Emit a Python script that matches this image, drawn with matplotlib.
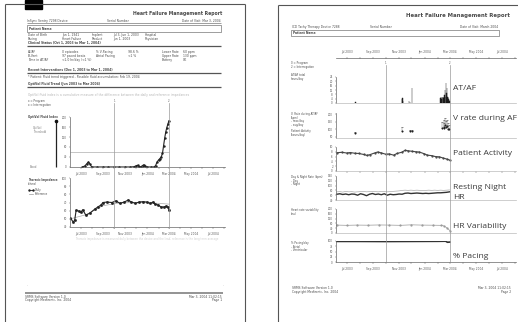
import matplotlib
matplotlib.use("Agg")
import matplotlib.pyplot as plt
import matplotlib.dates as mdates
import pandas as pd
from matplotlib.patches import Rectangle

# ---------------------------------------------------------------- data
date_ticks = ["2003-07-01", "2003-09-01", "2003-11-01", "2004-01-01",
              "2004-03-01", "2004-05-01", "2004-07-01"]
date_labels = ["Jul 2003", "Sep 2003", "Nov 2003", "Jan 2004",
               "Mar 2004", "May 2004", "Jul 2004"]
period_marks = ["2003-10-01", "2004-03-01"]

# OptiVol fluid index
fluid_dates = ["2003-07-05", "2003-07-12", "2003-07-18", "2003-07-22", "2003-07-26",
               "2003-07-31", "2003-08-15", "2003-09-01", "2003-09-15", "2003-10-01",
               "2003-10-15", "2003-11-01", "2003-11-15", "2003-11-25", "2003-12-01",
               "2003-12-05", "2003-12-09", "2003-12-14", "2003-12-19", "2003-12-22",
               "2003-12-26", "2003-12-30", "2004-01-10", "2004-01-20", "2004-01-24",
               "2004-01-28", "2004-02-01", "2004-02-05", "2004-02-09", "2004-02-12",
               "2004-02-15", "2004-02-18", "2004-02-21", "2004-02-24", "2004-02-27",
               "2004-03-01"]
fluid_index = [0, 4, 14, 20, 12, 0, 0, 0, 0, 0, 0, 0, 0, 1, 5, 7, 2, 1, 6, 9,
               3, 0, 0, 0, 6, 20, 28, 34, 42, 55, 85, 115, 140, 158, 172, 185]
fluid_threshold = 60

# Thoracic impedance
imp_dates = ["2003-06-02", "2003-06-10", "2003-06-14", "2003-06-18", "2003-06-25",
             "2003-07-01", "2003-07-06", "2003-07-15", "2003-07-26", "2003-08-09",
             "2003-08-17", "2003-08-26", "2003-08-31", "2003-09-11", "2003-09-25",
             "2003-10-06", "2003-10-17", "2003-10-29", "2003-11-09", "2003-11-18",
             "2003-11-29", "2003-12-09", "2003-12-20", "2003-12-31", "2004-01-09",
             "2004-01-17", "2004-01-22", "2004-01-31", "2004-02-08", "2004-02-17",
             "2004-02-22", "2004-02-27", "2004-03-01"]
imp_daily = [51, 46, 48.5, 60.5, 59.5, 58, 61, 54.5, 57, 62, 64.5, 67, 70,
             70.5, 70, 72, 69, 70.5, 73, 70.5, 69, 70.5, 71, 70.5, 68.8, 70.5,
             68, 67, 64.5, 64.5, 65.5, 64, 61]
ref_dates = ["2003-06-02", "2003-07-15", "2003-08-31", "2003-10-15", "2003-12-01",
             "2004-01-15", "2004-03-01"]
imp_reference = [50, 55, 66, 69.5, 70, 69.5, 68]

# AT/AF burden (hours/day)
ataf_dates = ["2003-07-22", "2003-11-09", "2003-11-10", "2003-11-11", "2003-11-26",
              "2003-11-28", "2003-12-02"] + \
             [f"2004-02-{d:02d}" for d in range(8, 30)]
ataf_hours = [1, 4, 5, 2, 2, 1, 14,
              5, 6, 4, 6, 5, 6, 6, 5, 6, 7, 6, 12, 6, 18, 9, 14, 6, 6, 5, 4, 3, 2]

# Ventricular rate during AT/AF (bpm)
vr_dates = ["2003-07-22", "2003-11-10", "2003-11-27", "2003-12-02", "2004-02-12",
            "2004-02-15", "2004-02-17", "2004-02-19", "2004-02-21", "2004-02-23",
            "2004-02-25", "2004-02-27"]
vr_max = [80, 118, 92, 95, 150, 160, 145, 175, 155, 165, 140, 130]
vr_avg = [72, 90, 85, 86, 110, 118, 105, 128, 112, 120, 102, 98]

# Patient activity (hours/day)
act_dates = ["2003-06-08", "2003-06-20", "2003-07-01", "2003-07-10", "2003-07-20",
             "2003-07-30", "2003-08-10", "2003-08-18", "2003-08-25", "2003-09-05",
             "2003-09-12", "2003-09-20", "2003-10-01", "2003-10-10", "2003-10-20",
             "2003-10-28", "2003-11-08", "2003-11-16", "2003-11-24", "2003-12-03",
             "2003-12-12", "2003-12-20", "2003-12-31", "2004-01-08", "2004-01-18",
             "2004-01-27", "2004-02-05", "2004-02-14", "2004-02-22", "2004-03-01"]
act_hours = [7.6, 7.8, 7.5, 7.7, 7.4, 7.3, 6.9, 6.5, 6.8, 7.5, 7.9, 7.6, 7.0,
             7.1, 6.6, 7.3, 7.8, 8.6, 8.4, 8.2, 8.0, 7.9, 7.2, 6.6, 6.4, 6.0,
             5.9, 5.4, 5.0, 4.5]

# Day / night heart rate (bpm), weekly
hr_dates = [d.strftime("%Y-%m-%d") for d in
            pd.date_range("2003-06-08", "2004-03-01", freq="7D")]
hr_night = [64, 66, 63, 65, 62, 65, 64, 60, 66, 63, 58, 64, 67, 63, 65, 62,
            66, 60, 64, 62, 63, 65, 64, 68, 69, 67, 68, 69, 68, 67, 68, 67,
            68, 69, 70, 70, 71, 72, 74][:len(hr_dates)]
hr_day = [74, 75, 73, 76, 74, 75, 73, 74, 75, 76, 74, 75, 76, 75, 74, 76,
          75, 74, 75, 76, 77, 78, 80, 81, 80, 81, 80, 81, 80, 79, 80, 81,
          80, 81, 80, 81, 80, 81, 82][:len(hr_dates)]

# Heart rate variability (ms)
hrv_dates = ["2003-06-08", "2003-07-01", "2003-07-25", "2003-08-20", "2003-09-15",
             "2003-10-10", "2003-11-05", "2003-12-01", "2003-12-25", "2004-01-20",
             "2004-02-08", "2004-02-15", "2004-02-22", "2004-03-01"]
hrv_ms = [66, 64, 66, 65, 67, 66, 64, 68, 66, 65, 64, 60, 45, 20]

# Percent pacing
pace_dates = ["2003-06-08", "2003-08-01", "2003-10-01", "2003-12-01", "2004-02-01",
              "2004-02-20", "2004-02-24", "2004-03-01"]
pace_pct = [98, 98, 97.5, 98, 98.5, 99, 94, 95]

# ---------------------------------------------------------------- figure
W, H = 518, 322
fig = plt.figure(figsize=(W / 100, H / 100), dpi=100)
fig.patch.set_facecolor("white")

page = fig.add_axes([0, 0, 1, 1])
page.set_xlim(0, W)
page.set_ylim(H, 0)
page.axis("off")

TXT = "#4a4a4a"
SMALL = 2.2
FAM = ["DejaVu Sans"]


def t(x, y, s, size=SMALL, ha="left", bold=False, color=TXT, **kw):
    page.text(x, y, s, fontsize=size, ha=ha, va="center", color=color,
              fontweight="bold" if bold else "normal", family=FAM, **kw)


def hline(x0, x1, y, lw=0.4, color="#555555"):
    page.plot([x0, x1], [y, y], color=color, lw=lw, solid_capstyle="butt")


def vline(x, y0, y1, lw=0.6, color="#555555"):
    page.plot([x, x], [y0, y1], color=color, lw=lw, solid_capstyle="butt")


def box(x0, y0, x1, y1):
    ax = fig.add_axes([x0 / W, 1 - y1 / H, (x1 - x0) / W, (y1 - y0) / H])
    ax.patch.set_alpha(0)
    return ax


def D(lst):
    return pd.to_datetime(lst)


tick_dates = D(date_ticks)
months = mdates.MonthLocator()


def style_axis(ax, xlim, ylim, yticks, show_xlabels=False, xticks=True,
               bottom_color="#666666"):
    ax.set_xlim(*D(xlim))
    ax.set_ylim(*ylim)
    for s in ("top", "right"):
        ax.spines[s].set_visible(False)
    ax.spines["left"].set_color("#666666")
    ax.spines["left"].set_linewidth(0.5)
    ax.spines["bottom"].set_color(bottom_color)
    ax.spines["bottom"].set_linewidth(0.5)
    ax.set_yticks(yticks)
    ax.set_yticklabels([str(v) for v in yticks])
    ax.tick_params(axis="y", labelsize=1.9, length=1, width=0.3, pad=1.2,
                   colors="#555555")
    if xticks:
        ax.set_xticks(tick_dates)
        ax.set_xticklabels(date_labels if show_xlabels else [])
        ax.xaxis.set_minor_locator(months)
        ax.tick_params(axis="x", which="both", labelsize=2.1, length=1.2,
                       width=0.3, pad=2.2, colors="#555555")
    else:
        ax.set_xticks([])


# ============================================================ page 1
vline(5, 4, H, lw=0.8)
vline(245, 4, H, lw=0.8)
hline(5, 245, 4, lw=0.8)
page.add_patch(Rectangle((25, 0), 17, 9, color="black"))

t(222, 13, "Heart Failure Management Report", size=3.3, ha="right", bold=True)
t(27, 20.5, "InSync Sentry 7298 Device")
t(107, 20.5, "Serial Number")
t(221, 20.5, "Date of Visit: Mar 3, 2004", ha="right")
hline(27, 221, 23, lw=0.4)
page.add_patch(Rectangle((27, 25), 194, 7, fill=False, lw=0.4, ec="#555555"))
t(29, 28.5, "Patient Name", bold=True)

for x, a, b in [(28, "Date of Birth", "Pacing"), (62, "Jan 1, 1941", "Heart Failure"),
                (92, "Implant", "Product"), (113, "Jul 3, Jun 1, 2003", "Jun 1, 2003"),
                (145, "Hospital", "Physician")]:
    t(x, 34.5, a)
    t(x, 38.5, b)

t(28, 43, "Clinical Status (Oct 1, 2003 to Mar 1, 2004)", bold=True)
hline(27, 221, 46, lw=0.9)
rows = [["AT/AF", "0 episodes", "% V-Pacing", "98.6 %", "Lower Rate", "60 ppm"],
        ["Bi-Vent", "97 paced beats", "Atrial Pacing", "<1 %", "Upper Rate", "130 ppm"],
        ["Time in AT/AF", "<1.0 hr/day (<1 %)", "", "", "Battery", "OK"]]
for y, row in zip([52, 56, 60], rows):
    for x, s in zip([28, 62, 96, 128, 162, 183], row):
        t(x, y, s)

t(28, 70, "Recent Interventions (Dec 1, 2003 to Mar 1, 2004)", bold=True)
hline(27, 221, 73, lw=0.9)
t(28, 77, "* Patient: Fluid trend triggered - Possible fluid accumulation: Feb 19, 2004")
t(28, 84, "OptiVol Fluid Trend (Jun 2003 to Mar 2004)", bold=True)
hline(27, 221, 87, lw=0.9)
t(28, 95, "OptiVol fluid index is a cumulative measure of the difference between the daily and reference impedances",
  color="#b5b5b5")
t(28, 101, "x = Program", size=1.9)
t(28, 104.5, "x = Interrogation", size=1.9)

t(28, 117, "OptiVol Fluid Index", bold=True, size=2.0)
t(33, 128, "OptiVol", size=1.9, color="#777777")
t(33, 131.5, "Threshold", size=1.9, color="#777777")
t(30, 167, "Blood", size=1.9, color="#777777")
vline(56, 121, 167, lw=0.9, color="#222222")
page.plot([56], [121], "o", ms=1.6, color="#111111")

# fluid index chart
ax1 = box(70, 117, 225, 167)
style_axis(ax1, ("2003-06-01", "2004-08-03"), (0, 200), [0, 40, 80, 120, 160, 200],
           show_xlabels=True)
ax1.hlines(fluid_threshold, D(["2003-06-01"])[0], D(["2004-03-01"])[0],
           color="#999999", lw=0.4)
ax1.plot(D(fluid_dates), fluid_index, color="#222222", lw=0.8, marker="s", ms=0.7)

# thoracic impedance chart
t(28, 180, "Thoracic Impedance", bold=True, size=1.9)
t(28, 183.5, "(ohms)", size=1.9)
page.plot([29, 33], [190, 190], color="#222222", lw=0.6, marker="s", ms=0.7)
t(35, 190, "Daily", size=1.9)
page.plot([29, 33], [193.5, 193.5], color="#999999", lw=0.5)
t(35, 193.5, "Reference", size=1.9)

ax2 = box(70, 178, 225, 227)
style_axis(ax2, ("2003-06-01", "2004-08-03"), (40, 100), [40, 50, 60, 70, 80, 90, 100],
           show_xlabels=True)
ax2.plot(D(ref_dates), imp_reference, color="#aaaaaa", lw=0.5)
ax2.plot(D(imp_dates), imp_daily, color="#222222", lw=0.8, marker="s", ms=0.9)

# period markers for page 1
ov1 = box(70, 103, 225, 229)
ov1.set_xlim(*D(["2003-06-01", "2004-08-03"]))
ov1.set_ylim(0, 1)
ov1.axis("off")
for i, d in enumerate(D(period_marks)):
    ov1.axvline(d, color="#9a9a9a", lw=0.5)
    ov1.text(d, 1.0, str(i + 1), fontsize=1.8, ha="center", va="bottom", color="#555555")

t(75, 239, "Thoracic impedance is measured daily between the device and the lead; reference is the long term average",
  color="#cccccc", size=1.9)

t(27, 285, "-", color="#aaaaaa")
t(223, 285, "-", color="#aaaaaa")
hline(25, 223, 293, lw=1.3, color="#8a8a8a")
t(25, 297, "SRMS Software Version 1.0")
t(25, 300.5, "Copyright Medtronic, Inc. 2004")
t(222, 297, "Mar 3, 2004 11:02:15", ha="right")
t(222, 300.5, "Page 1", ha="right")

# ============================================================ page 2
vline(278, 5, H, lw=0.8)
hline(278, W, 5, lw=0.8)

t(510, 15, "Heart Failure Management Report", size=3.9, ha="right", bold=True)
t(292, 27, "ICD Tachy Therapy Device 7288")
t(370, 27, "Serial Number")
t(498, 27, "Date of Visit: March 2004", ha="right")
page.add_patch(Rectangle((291, 30), 208, 5.5, fill=False, lw=0.4, ec="#555555"))
t(293, 32.7, "Patient Name", bold=True)

XL2 = ("2003-06-06", "2004-08-04")

axt = box(336, 58, 516, 62)
axt.set_xlim(*D(XL2))
for s in ("bottom", "left", "right"):
    axt.spines[s].set_visible(False)
axt.spines["top"].set_color("#666666")
axt.spines["top"].set_linewidth(0.5)
axt.set_yticks([])
axt.xaxis.tick_top()
axt.set_xticks(tick_dates)
axt.set_xticklabels(date_labels)
axt.xaxis.set_minor_locator(months)
axt.tick_params(axis="x", which="both", labelsize=2.1, length=1.2, width=0.3,
                pad=2.5, colors="#555555", direction="inout")

t(291, 63, "0 = Program", size=1.9)
t(291, 66.5, "2 = Interrogation", size=1.9)
t(291, 75, "AT/AF total", size=1.9)
t(291, 78.5, "hours/day", size=1.9)

# AT/AF
p1 = box(336, 77, 516, 103)
style_axis(p1, XL2, (0, 24), [0, 4, 8, 12, 16, 20, 24], xticks=False,
           bottom_color="#bbbbbb")
p1.bar(D(ataf_dates), ataf_hours, width=0.9, color="#333333", edgecolor="#111111", lw=0.3)

# V rate
t(291, 114, "V. Rate during AT/AF", size=1.9)
t(291, 117.5, "(bpm)", size=1.9)
t(291, 121, "- max/day", size=1.9)
t(291, 124.5, "- avg/day", size=1.9)
p2 = box(336, 113, 516, 138)
style_axis(p2, XL2, (40, 210), [50, 100, 150, 200], xticks=False,
           bottom_color="#bbbbbb")
p2.vlines(D(vr_dates), vr_avg, vr_max, color="#666666", lw=0.3)
p2.plot(D(vr_dates), vr_max, ls="none", marker="_", ms=1.2, mew=0.4, color="#444444")
p2.plot(D(vr_dates), vr_avg, ls="none", marker="s", ms=0.5, color="#222222")

# Patient activity
t(291, 131, "Patient Activity", size=1.9)
t(291, 134.5, "(hours/day)", size=1.9)
p3 = box(336, 147, 516, 171)
style_axis(p3, XL2, (0, 10), [0, 2, 4, 6, 8, 10], show_xlabels=False,
           bottom_color="#bbbbbb")
p3.plot(D(act_dates), act_hours, color="#444444", lw=0.8, marker="o", ms=0.6)

# Day / night heart rate
t(291, 177, "Day & Night Rate (bpm)", size=1.9)
t(291, 180.5, "- Day", size=1.9)
t(291, 184, "- Night", size=1.9)
p4 = box(336, 176, 516, 200)
style_axis(p4, XL2, (40, 140), [40, 60, 80, 100, 120, 140], xticks=False,
           bottom_color="#bbbbbb")
p4.plot(D(hr_dates), hr_day, color="#aaaaaa", lw=0.5)
p4.plot(D(hr_dates), hr_night, color="#333333", lw=1.0)

# Heart rate variability
t(291, 210, "Heart rate variability", size=1.9)
t(291, 213.5, "(ms)", size=1.9)
p5 = box(336, 209, 516, 233)
style_axis(p5, XL2, (0, 200), [0, 40, 80, 120, 160, 200], xticks=False,
           bottom_color="#bbbbbb")
p5.plot(D(hrv_dates), hrv_ms, color="#999999", lw=0.5, marker="o", ms=0.6)

# Percent pacing
t(291, 243, "% Pacing/day", size=1.9)
t(291, 246.5, "- Atrial", size=1.9)
t(291, 250, "- Ventricular", size=1.9)
p6 = box(336, 241, 516, 262)
style_axis(p6, XL2, (0, 100), [0, 25, 50, 75, 100], show_xlabels=True)
p6.plot(D(pace_dates), pace_pct, color="#333333", lw=1.2)

# period markers for page 2
ov2 = box(336, 62, 516, 262)
ov2.set_xlim(*D(XL2))
ov2.set_ylim(0, 1)
ov2.axis("off")
for i, d in enumerate(D(period_marks)):
    ov2.axvline(d, ymax=0.985, color="#9a9a9a", lw=0.5)
    ov2.text(d, 0.985, str(i + 1), fontsize=1.8, ha="center", va="bottom", color="#555555")

# panel captions
BIG = dict(fontsize=6.1, color="#3a3a3a", family=["Open Sans", "DejaVu Sans"],
           va="center", ha="left")
page.text(453, 88, "AT/AF", **BIG)
page.text(453, 118, "V rate during AF", clip_on=True, **BIG)
page.text(453, 153, "Patient Activity", **BIG)
page.text(453, 187, "Resting Night", **BIG)
page.text(453, 197, "HR", **BIG)
page.text(453, 226, "HR Variability", **BIG)
page.text(453, 257, "% Pacing", **BIG)

t(292, 288, "SRMS Software Version 1.0")
t(292, 292, "Copyright Medtronic, Inc. 2004")
t(511, 288, "Mar 3, 2004 11:02:15", ha="right")
t(511, 292, "Page 2", ha="right")

fig.savefig("out.png", dpi=100, facecolor="white")
